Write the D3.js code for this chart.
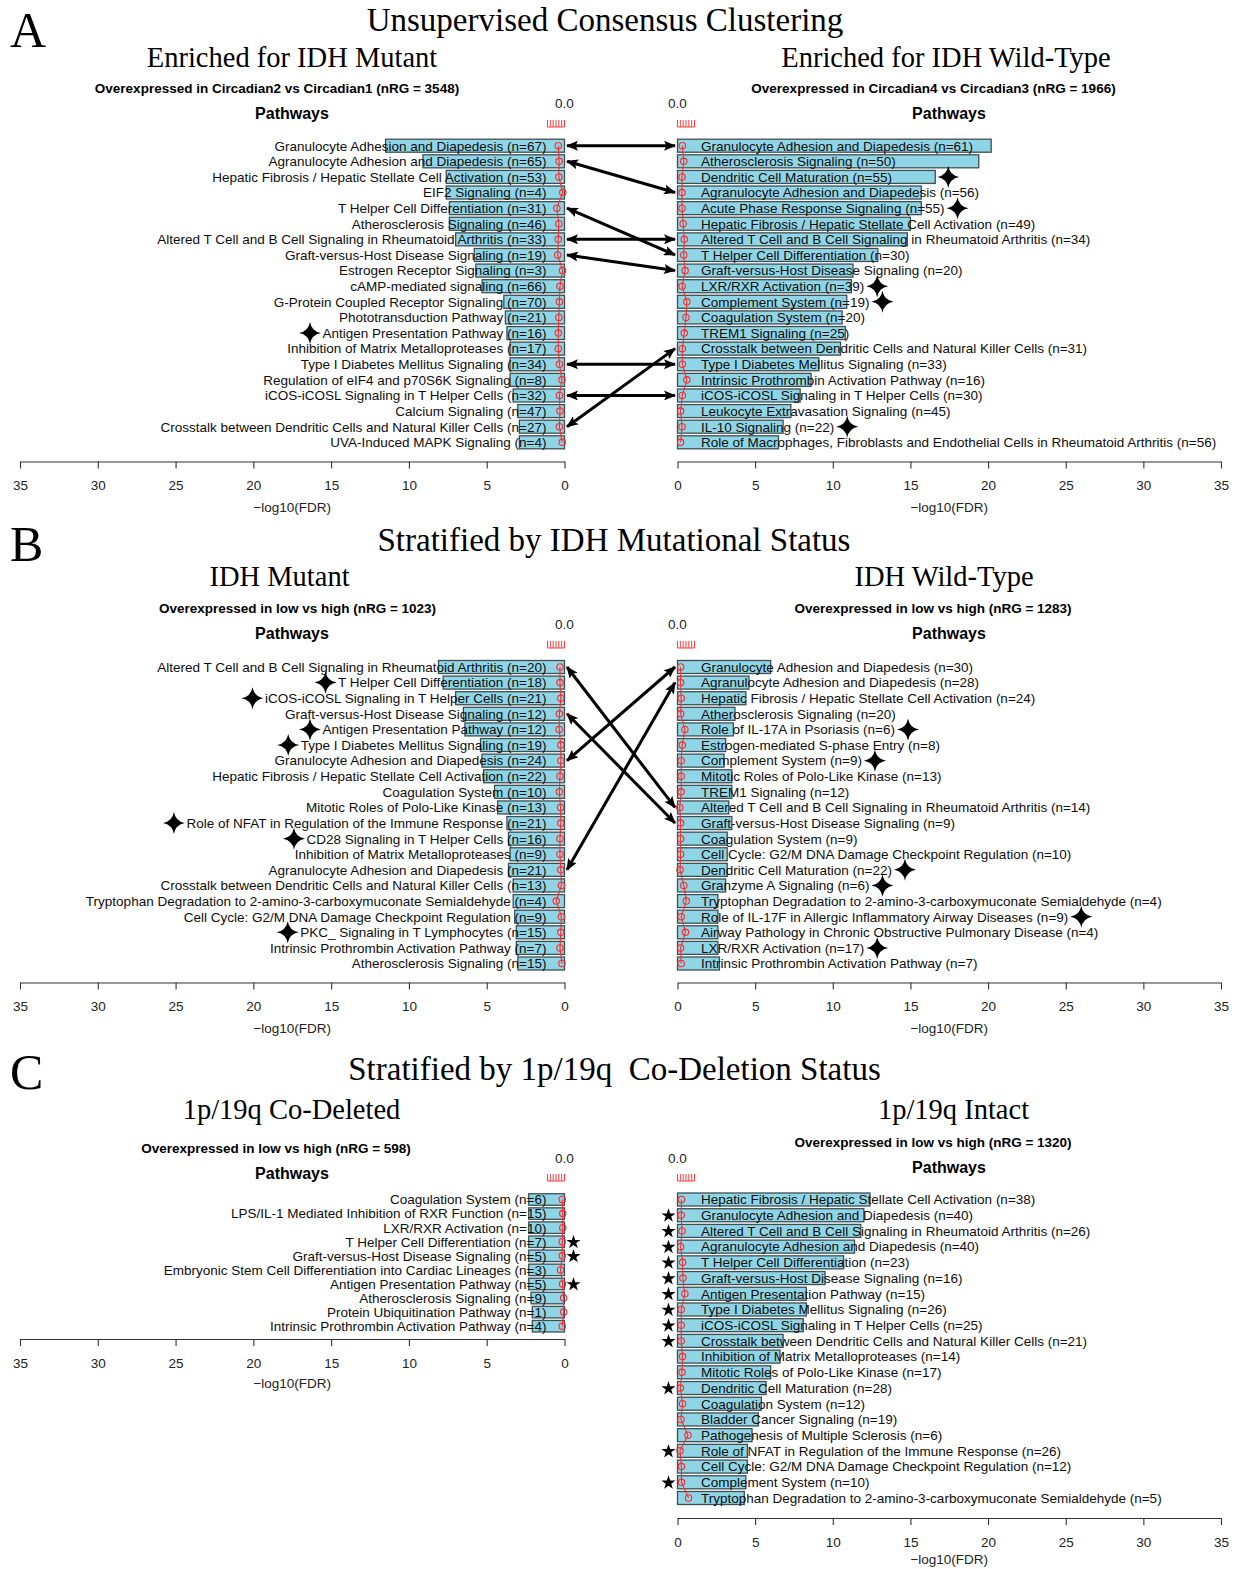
<!DOCTYPE html>
<html><head><meta charset="utf-8">
<script src="https://cdn.jsdelivr.net/npm/d3@7"></script>
<style>body{margin:0;background:#fff}</style>
</head><body>
<svg id="c" width="1236" height="1569"></svg>
<script>
// ---------------- DATA ----------------
const labelsAL = ["Granulocyte Adhesion and Diapedesis (n=67)","Agranulocyte Adhesion and Diapedesis (n=65)","Hepatic Fibrosis / Hepatic Stellate Cell Activation (n=53)","EIF2 Signaling (n=4)","T Helper Cell Differentiation (n=31)","Atherosclerosis Signaling (n=46)","Altered T Cell and B Cell Signaling in Rheumatoid Arthritis (n=33)","Graft-versus-Host Disease Signaling (n=19)","Estrogen Receptor Signaling (n=3)","cAMP-mediated signaling (n=66)","G-Protein Coupled Receptor Signaling (n=70)","Phototransduction Pathway (n=21)","Antigen Presentation Pathway (n=16)","Inhibition of Matrix Metalloproteases (n=17)","Type I Diabetes Mellitus Signaling (n=34)","Regulation of eIF4 and p70S6K Signaling (n=8)","iCOS-iCOSL Signaling in T Helper Cells (n=32)","Calcium Signaling (n=47)","Crosstalk between Dendritic Cells and Natural Killer Cells (n=27)","UVA-Induced MAPK Signaling (n=4)"];
const valuesAL = [11.5,9.1,7.6,7.6,7.4,7.4,7.0,5.8,5.7,5.3,3.9,3.8,3.7,3.5,3.5,3.5,3.3,3.0,2.9,2.9];
const ratiosAL = [0.22,0.19,0.20,0.06,0.27,0.20,0.22,0.24,0.07,0.16,0.18,0.20,0.22,0.22,0.18,0.09,0.18,0.16,0.18,0.08];
const starsAL = [12];

const labelsAR = ["Granulocyte Adhesion and Diapedesis (n=61)","Atherosclerosis Signaling (n=50)","Dendritic Cell Maturation (n=55)","Agranulocyte Adhesion and Diapedesis (n=56)","Acute Phase Response Signaling (n=55)","Hepatic Fibrosis / Hepatic Stellate Cell Activation (n=49)","Altered T Cell and B Cell Signaling in Rheumatoid Arthritis (n=34)","T Helper Cell Differentiation (n=30)","Graft-versus-Host Disease Signaling (n=20)","LXR/RXR Activation (n=39)","Complement System (n=19)","Coagulation System (n=20)","TREM1 Signaling (n=25)","Crosstalk between Dendritic Cells and Natural Killer Cells (n=31)","Type I Diabetes Mellitus Signaling (n=33)","Intrinsic Prothrombin Activation Pathway (n=16)","iCOS-iCOSL Signaling in T Helper Cells (n=30)","Leukocyte Extravasation Signaling (n=45)","IL-10 Signaling (n=22)","Role of Macrophages, Fibroblasts and Endothelial Cells in Rheumatoid Arthritis (n=56)"];
const valuesAR = [20.2,19.4,16.6,15.7,15.7,15.0,14.8,12.9,11.3,11.2,10.9,10.6,10.8,10.5,9.1,8.6,7.9,7.3,6.8,6.5];
const ratiosAR = [0.17,0.22,0.16,0.16,0.16,0.20,0.24,0.22,0.27,0.16,0.33,0.30,0.24,0.17,0.17,0.33,0.17,0.11,0.16,0.11];
const starsAR = [2,4,9,10,18];
const linksA = [[0,0],[1,3],[4,7],[6,6],[7,8],[14,14],[16,16],[18,13]];

const labelsBL = ["Altered T Cell and B Cell Signaling in Rheumatoid Arthritis (n=20)","T Helper Cell Differentiation (n=18)","iCOS-iCOSL Signaling in T Helper Cells (n=21)","Graft-versus-Host Disease Signaling (n=12)","Antigen Presentation Pathway (n=12)","Type I Diabetes Mellitus Signaling (n=19)","Granulocyte Adhesion and Diapedesis (n=24)","Hepatic Fibrosis / Hepatic Stellate Cell Activation (n=22)","Coagulation System (n=10)","Mitotic Roles of Polo-Like Kinase (n=13)","Role of NFAT in Regulation of the Immune Response (n=21)","CD28 Signaling in T Helper Cells (n=16)","Inhibition of Matrix Metalloproteases (n=9)","Agranulocyte Adhesion and Diapedesis (n=21)","Crosstalk between Dendritic Cells and Natural Killer Cells (n=13)","Tryptophan Degradation to 2-amino-3-carboxymuconate Semialdehyde (n=4)","Cell Cycle: G2/M DNA Damage Checkpoint Regulation (n=9)","PKC_ Signaling in T Lymphocytes (n=15)","Intrinsic Prothrombin Activation Pathway (n=7)","Atherosclerosis Signaling (n=15)"];
const valuesBL = [8.1,7.8,7.0,6.5,6.4,5.4,5.3,5.2,4.5,4.3,3.7,3.6,3.5,3.6,3.3,3.3,3.2,3.1,3.1,3.0];
const ratiosBL = [0.16,0.16,0.13,0.18,0.19,0.13,0.13,0.16,0.18,0.14,0.13,0.16,0.16,0.13,0.11,0.29,0.11,0.13,0.16,0.09];
const starsBL = [1,2,4,5,10,11,17];

const labelsBR = ["Granulocyte Adhesion and Diapedesis (n=30)","Agranulocyte Adhesion and Diapedesis (n=28)","Hepatic Fibrosis / Hepatic Stellate Cell Activation (n=24)","Atherosclerosis Signaling (n=20)","Role of IL-17A in Psoriasis (n=6)","Estrogen-mediated S-phase Entry (n=8)","Complement System (n=9)","Mitotic Roles of Polo-Like Kinase (n=13)","TREM1 Signaling (n=12)","Altered T Cell and B Cell Signaling in Rheumatoid Arthritis (n=14)","Graft-versus-Host Disease Signaling (n=9)","Coagulation System (n=9)","Cell Cycle: G2/M DNA Damage Checkpoint Regulation (n=10)","Dendritic Cell Maturation (n=22)","Granzyme A Signaling (n=6)","Tryptophan Degradation to 2-amino-3-carboxymuconate Semialdehyde (n=4)","Role of IL-17F in Allergic Inflammatory Airway Diseases (n=9)","Airway Pathology in Chronic Obstructive Pulmonary Disease (n=4)","LXR/RXR Activation (n=17)","Intrinsic Prothrombin Activation Pathway (n=7)"];
const valuesBR = [6.0,4.6,4.4,3.7,3.6,3.1,3.0,3.5,3.5,3.3,3.5,3.2,3.2,3.2,3.1,2.6,2.6,2.6,2.6,2.7];
const ratiosBR = [0.11,0.11,0.13,0.11,0.26,0.17,0.13,0.13,0.13,0.08,0.11,0.11,0.11,0.09,0.22,0.31,0.13,0.28,0.11,0.13];
const starsBR = [4,6,13,14,16,18];
const linksB = [[0,9],[3,10],[6,0],[13,1]];

const labelsCL = ["Coagulation System (n=6)","LPS/IL-1 Mediated Inhibition of RXR Function (n=15)","LXR/RXR Activation (n=10)","T Helper Cell Differentiation (n=7)","Graft-versus-Host Disease Signaling (n=5)","Embryonic Stem Cell Differentiation into Cardiac Lineages (n=3)","Antigen Presentation Pathway (n=5)","Atherosclerosis Signaling (n=9)","Protein Ubiquitination Pathway (n=1)","Intrinsic Prothrombin Activation Pathway (n=4)"];
const valuesCL = [2.3,2.3,2.3,2.3,2.3,2.3,2.3,2.15,2.07,2.07];
const ratiosCL = [0.08,0.06,0.06,0.08,0.08,0.14,0.07,0.03,0.03,0.08];
const starsCL = [3,4,6];

const labelsCR = ["Hepatic Fibrosis / Hepatic Stellate Cell Activation (n=38)","Granulocyte Adhesion and Diapedesis (n=40)","Altered T Cell and B Cell Signaling in Rheumatoid Arthritis (n=26)","Agranulocyte Adhesion and Diapedesis (n=40)","T Helper Cell Differentiation (n=23)","Graft-versus-Host Disease Signaling (n=16)","Antigen Presentation Pathway (n=15)","Type I Diabetes Mellitus Signaling (n=26)","iCOS-iCOSL Signaling in T Helper Cells (n=25)","Crosstalk between Dendritic Cells and Natural Killer Cells (n=21)","Inhibition of Matrix Metalloproteases (n=14)","Mitotic Roles of Polo-Like Kinase (n=17)","Dendritic Cell Maturation (n=28)","Coagulation System (n=12)","Bladder Cancer Signaling (n=19)","Pathogenesis of Multiple Sclerosis (n=6)","Role of NFAT in Regulation of the Immune Response (n=26)","Cell Cycle: G2/M DNA Damage Checkpoint Regulation (n=12)","Complement System (n=10)","Tryptophan Degradation to 2-amino-3-carboxymuconate Semialdehyde (n=5)"];
const valuesCR = [12.4,12.0,11.8,11.4,10.7,9.5,8.3,8.3,8.1,6.8,6.6,6.0,5.7,5.4,5.2,4.8,4.5,4.5,4.4,4.3];
const ratiosCR = [0.14,0.13,0.16,0.11,0.18,0.19,0.26,0.13,0.13,0.13,0.18,0.16,0.10,0.18,0.12,0.37,0.09,0.14,0.14,0.39];
const starsCR = [1,2,3,4,5,6,7,8,9,12,16,18];

const xTicks = [0,5,10,15,20,25,30,35];
const ratioTicks = [0,0.1,0.2,0.3,0.4,0.5,0.6];

// ---------------- DRAW ----------------
const SANS = "'Liberation Sans', Arial, Helvetica, sans-serif";
const SERIF = "'Liberation Serif', 'Times New Roman', Times, serif";
const svg = d3.select('#c');
svg.append('rect').attr('width',1236).attr('height',1569).attr('fill','#fff');

const OL = 564.5, OR = 677.5;
const xLeft = d3.scaleLinear().domain([0,35]).range([OL, 20]);
const xRight = d3.scaleLinear().domain([0,35]).range([OR, 1221]);
const rLeft = d3.scaleLinear().domain([0,0.6]).range([OL, OL-17]);
const rRight = d3.scaleLinear().domain([0,0.6]).range([OR, OR+17]);

const defs = svg.append('defs');
defs.append('marker').attr('id','ah').attr('viewBox','0 0 12 10')
  .attr('refX',11).attr('refY',5).attr('markerWidth',12).attr('markerHeight',10)
  .attr('markerUnits','userSpaceOnUse').attr('orient','auto-start-reverse')
  .append('path').attr('d','M0,0 L12,5 L0,10 L2.5,5 Z').attr('fill','#000');

function sparkle(R){
  const c = 1.6;
  return `M0,${-R} Q${c},${-c} ${R},0 Q${c},${c} 0,${R} Q${-c},${c} ${-R},0 Q${-c},${-c} 0,${-R} Z`;
}
const filledStar = d3.symbol().type(d3.symbolStar).size(62)();

function panel(p){
  const L = p.side === 'L';
  const x = L ? xLeft : xRight;
  const r = L ? rLeft : rRight;
  const y = d3.scalePoint().domain(d3.range(p.labels.length)).range([p.top, p.bottom]);
  const g = svg.append('g');

  g.append('text').attr('x', p.subX).attr('y', p.subY).attr('text-anchor','middle')
    .style('font', `bold 13.5px ${SANS}`).attr('fill','#000').text(p.sub);
  g.append('text').attr('x', p.pathX).attr('y', p.pathY).attr('text-anchor','middle')
    .style('font', `bold 16px ${SANS}`).attr('fill','#000').text('Pathways');

  g.selectAll('rect.bar').data(p.values).join('rect').attr('class','bar')
    .attr('x', d => Math.min(x(0), x(d)))
    .attr('width', d => Math.abs(x(d) - x(0)))
    .attr('y', (d,i) => y(i) - p.barH/2).attr('height', p.barH)
    .attr('fill','#90d5e5').attr('stroke','#3e4f54').attr('stroke-width',1.3);

  const labs = g.selectAll('text.lab').data(p.labels).join('text').attr('class','lab')
    .attr('x', L ? x(0) - 18 : x(0) + 23.5)
    .attr('y', (d,i) => y(i)).attr('dy','0.36em')
    .attr('text-anchor', L ? 'end' : 'start')
    .style('font', `13.5px ${SANS}`).attr('fill','#0d0d0d').text(d => d);

  const ra = g.append('g').attr('stroke','#ff3b3b').attr('stroke-width',1);
  ra.append('line').attr('x1', r(0)).attr('x2', r(0.6)).attr('y1', p.redY).attr('y2', p.redY);
  ra.selectAll('line.t').data(ratioTicks).join('line').attr('class','t')
    .attr('x1', d => r(d)).attr('x2', d => r(d)).attr('y1', p.redY).attr('y2', p.redY - 7);
  g.append('text').attr('x', r(0)).attr('y', p.zeroY).attr('text-anchor','middle')
    .style('font', `13.5px ${SANS}`).attr('fill','#222').text('0.0');

  g.append('path').datum(p.ratios)
    .attr('d', d3.line().x(d => r(d)).y((d,i) => y(i)))
    .attr('fill','none').attr('stroke','#ff2a2a').attr('stroke-width',1.1);
  g.selectAll('circle.rc').data(p.ratios).join('circle').attr('class','rc')
    .attr('cx', d => r(d)).attr('cy', (d,i) => y(i)).attr('r', 3.2)
    .attr('fill','none').attr('stroke','#ff2a2a').attr('stroke-width',1.1);

  if (p.starType === 'sparkle') {
    labs.each(function(d,i){
      if (!p.stars.includes(i)) return;
      const w = this.getComputedTextLength();
      const tx0 = +this.getAttribute('x');
      let sx;
      if (L) sx = Math.min(tx0 - w, x(p.values[i])) - 12.5;
      else sx = Math.max(tx0 + w, x(p.values[i])) + 13;
      g.append('path').attr('d', sparkle(11)).attr('fill','#000')
        .attr('transform', `translate(${sx},${y(i)})`);
    });
  } else if (p.starType === 'filled') {
    g.selectAll('path.fs').data(p.stars).join('path').attr('class','fs')
      .attr('d', filledStar).attr('fill','#000')
      .attr('transform', i => `translate(${L ? x(0) + 9 : x(0) - 9},${y(i) + 0.5})`);
  }

  const ax = g.append('g').attr('transform', `translate(0,${p.axisY})`)
    .call(d3.axisBottom(x).tickValues(xTicks).tickSize(7).tickSizeOuter(0).tickPadding(12));
  ax.select('.domain').attr('stroke','#333').attr('stroke-width',1.1);
  ax.selectAll('.tick line').attr('stroke','#333').attr('stroke-width',1.1);
  ax.selectAll('.tick text').style('font', `13.5px ${SANS}`).attr('fill','#222');
  const xr = x.range();
  g.append('text').attr('x', (xr[0] + xr[1]) / 2).attr('y', p.axisY + (p.xlabDy || 50))
    .attr('text-anchor','middle').style('font', `13.5px ${SANS}`).attr('fill','#222')
    .text('\u2212log10(FDR)');

  return y;
}

function links(list, yL, yR){
  const g = svg.append('g');
  g.selectAll('line').data(list).join('line')
    .attr('x1', OL + 2.5).attr('y1', d => yL(d[0]))
    .attr('x2', OR - 2.5).attr('y2', d => yR(d[1]))
    .attr('stroke','#000').attr('stroke-width',3)
    .attr('marker-start','url(#ah)').attr('marker-end','url(#ah)');
}

function serifText(x, y, size, txt, anchor){
  svg.append('text').attr('x', x).attr('y', y).attr('text-anchor', anchor || 'middle')
    .style('font', `${size}px ${SERIF}`).style('white-space','pre').attr('xml:space','preserve')
    .attr('fill','#000').text(txt);
}

// Panel A
serifText(10, 47, 50, 'A', 'start');
serifText(605, 31, 33, 'Unsupervised Consensus Clustering');
serifText(292, 67, 28.5, 'Enriched for IDH Mutant');
serifText(946, 67, 28.5, 'Enriched for IDH Wild-Type');
const yAL = panel({side:'L', labels:labelsAL, values:valuesAL, ratios:ratiosAL, stars:starsAL, starType:'sparkle',
  top:145.7, bottom:442.3, barH:13, sub:'Overexpressed in Circadian2 vs Circadian1 (nRG = 3548)', subX:277, subY:93,
  pathX:292, pathY:119, zeroY:108, redY:127, axisY:461.5});
const yAR = panel({side:'R', labels:labelsAR, values:valuesAR, ratios:ratiosAR, stars:starsAR, starType:'sparkle',
  top:145.7, bottom:442.3, barH:13, sub:'Overexpressed in Circadian4 vs Circadian3 (nRG = 1966)', subX:933.5, subY:93,
  pathX:949, pathY:119, zeroY:108, redY:127, axisY:461.5});
links(linksA, yAL, yAR);

// Panel B
serifText(10, 561, 50, 'B', 'start');
serifText(614, 551, 33, 'Stratified by IDH Mutational Status');
serifText(279.5, 586, 28.5, 'IDH Mutant');
serifText(944, 586, 28.5, 'IDH Wild-Type');
const yBL = panel({side:'L', labels:labelsBL, values:valuesBL, ratios:ratiosBL, stars:starsBL, starType:'sparkle',
  top:667, bottom:963.5, barH:13, sub:'Overexpressed in low vs high (nRG = 1023)', subX:297.5, subY:613,
  pathX:292, pathY:639, zeroY:629, redY:648, axisY:982.5});
const yBR = panel({side:'R', labels:labelsBR, values:valuesBR, ratios:ratiosBR, stars:starsBR, starType:'sparkle',
  top:667, bottom:963.5, barH:13, sub:'Overexpressed in low vs high (nRG = 1283)', subX:933, subY:613,
  pathX:949, pathY:639, zeroY:629, redY:648, axisY:982.5});
links(linksB, yBL, yBR);

// Panel C
serifText(10, 1089, 50, 'C', 'start');
serifText(614.5, 1080, 33, 'Stratified by 1p/19q  Co-Deletion Status');
serifText(291.5, 1119, 28.5, '1p/19q Co-Deleted');
serifText(953.5, 1119, 28.5, '1p/19q Intact');
panel({side:'L', labels:labelsCL, values:valuesCL, ratios:ratiosCL, stars:starsCL, starType:'filled',
  top:1199.5, bottom:1326.2, barH:11.5, sub:'Overexpressed in low vs high (nRG = 598)', subX:276, subY:1153,
  pathX:292, pathY:1179, zeroY:1163, redY:1181, axisY:1339, xlabDy:49});
panel({side:'R', labels:labelsCR, values:valuesCR, ratios:ratiosCR, stars:starsCR, starType:'filled',
  top:1199.5, bottom:1498, barH:13, sub:'Overexpressed in low vs high (nRG = 1320)', subX:933, subY:1147,
  pathX:949, pathY:1173, zeroY:1163, redY:1181, axisY:1518, xlabDy:46});
</script>
</body></html>
